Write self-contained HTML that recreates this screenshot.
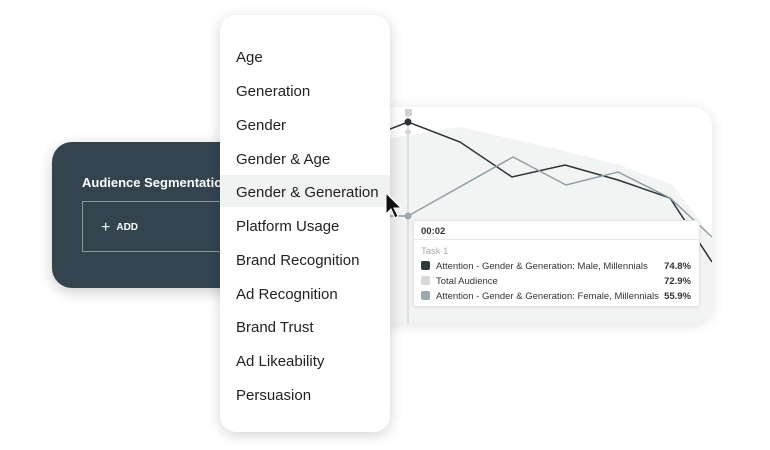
<!DOCTYPE html>
<html><head><style>
body{margin:0;width:770px;height:450px;background:#fff;position:relative;overflow:hidden;font-family:"Liberation Sans",sans-serif}
.dark{position:absolute;left:52px;top:142px;width:200px;height:146px;background:#34444f;border-radius:20px;box-shadow:0 4px 14px rgba(0,0,0,.2)}
.dark .t{position:absolute;left:30px;top:33px;color:#fff;font-weight:bold;font-size:13px;white-space:nowrap}
.dark .b{position:absolute;left:30px;top:59px;width:150px;height:51px;border:1px solid #8a979f;box-sizing:border-box}
.dark .add{position:absolute;left:18px;top:17px;color:#fff;font-size:10px;font-weight:bold;white-space:nowrap}
.dark .pl{font-size:16px;font-weight:normal;vertical-align:-2px;margin-right:6px}
.card{position:absolute;left:360px;top:107px;width:352px;height:216px;background:#fff;border-radius:20px;box-shadow:0 2px 14px rgba(0,0,0,.12);overflow:hidden}
.menu{position:absolute;left:220px;top:15px;width:170px;height:417px;background:#fff;border-radius:16px;box-shadow:0 3px 14px rgba(0,0,0,.18)}
.menu div{position:absolute;left:16px;font-size:15px;color:#222;white-space:nowrap}
.menu .hl{left:0;top:160px;width:170px;height:32px;background:#f1f2f2}
.tip{position:absolute;left:413px;top:220px;width:285px;height:85px;background:#fff;border:1px solid #e2e4e5;border-radius:3px;font-size:9.5px;color:#333;box-shadow:0 1px 3px rgba(0,0,0,.08)}
.tip .h{position:absolute;left:7px;top:5px;font-weight:bold}
.tip .ln{position:absolute;left:0;top:18px;width:100%;border-top:1px solid #e6e6e6}
.tip .r{position:absolute;left:7px;width:270px}
.tip .sq{display:inline-block;width:9px;height:9px;border-radius:2px;vertical-align:-1px;margin-right:6px}
.tip .v{position:absolute;right:0;font-weight:bold}
</style></head><body>
<div class="dark"><div class="t">Audience Segmentation</div><div class="b"><div class="add"><span class="pl">+</span>ADD</div></div></div>
<div class="card">
<svg width="352" height="216" style="position:absolute;left:0;top:0">
<g transform="translate(-360,-107)">
<polygon points="380,140 410,135 460,127 560,150 620,165 672,185 692,210 712,240 712,323 380,323" fill="#f2f3f3"/>
<line x1="408" y1="112" x2="408" y2="323" stroke="#d5d8d9" stroke-width="1.5"/>
<rect x="405" y="109" width="7" height="7" fill="#d0d0d0"/>
<polyline points="380,133 408,122 460,142 512,177 565,165 618,180 670,198 712,262" fill="none" stroke="#2b3135" stroke-width="1.5"/>
<polyline points="390,216 408,216 513,157 566,185 618,172 670,198 712,237" fill="none" stroke="#8fa0a6" stroke-width="1.5"/>
<circle cx="408" cy="122" r="3.5" fill="#2b3135"/>
<circle cx="408" cy="132" r="3" fill="#d4d6d7"/>
<circle cx="408" cy="216" r="3.5" fill="#9aa9ae"/>
</g></svg></div>
<div class="tip"><div class="h">00:02</div><div class="ln"></div>
<div class="r" style="top:25px;color:#aaa">Task 1</div>
<div class="r" style="top:40px"><span class="sq" style="background:#2f3a3f"></span>Attention - Gender &amp; Generation: Male, Millennials<span class="v">74.8%</span></div>
<div class="r" style="top:55px"><span class="sq" style="background:#d8d8d8"></span>Total Audience<span class="v">72.9%</span></div>
<div class="r" style="top:70px"><span class="sq" style="background:#9aaab0"></span>Attention - Gender &amp; Generation: Female, Millennials<span class="v">55.9%</span></div>
</div>
<div class="menu"><div class="hl"></div>
<div style="top:34px">Age</div><div style="top:68px">Generation</div><div style="top:102px">Gender</div><div style="top:136px">Gender &amp; Age</div><div style="top:169px">Gender &amp; Generation</div><div style="top:203px">Platform Usage</div><div style="top:237px">Brand Recognition</div><div style="top:271px">Ad Recognition</div><div style="top:304px">Brand Trust</div><div style="top:338px">Ad Likeability</div><div style="top:372px">Persuasion</div>
</div>
<svg width="24" height="30" style="position:absolute;left:384px;top:192px"><polygon points="2,1 2,22 7,17 11,26 14,24 10,16 17,16" fill="#111" stroke="#fff" stroke-width="1"/></svg>
</body></html>
